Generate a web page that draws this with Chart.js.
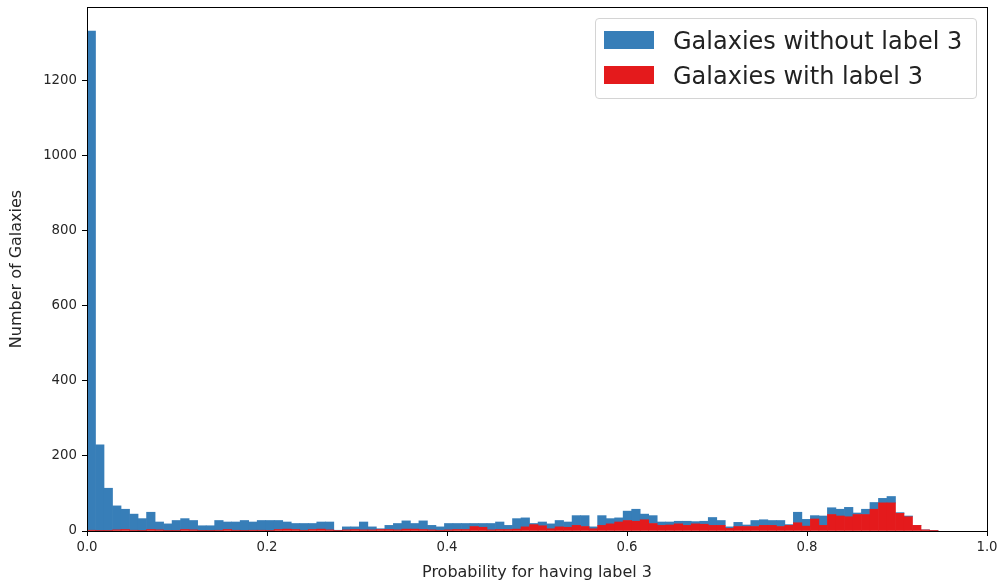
<!DOCTYPE html>
<html>
<head>
<meta charset="utf-8">
<script src="https://cdn.jsdelivr.net/npm/chart.js@4.4.1/dist/chart.umd.min.js"></script>
<style>
  html, body { margin: 0; padding: 0; background: #fff; overflow: hidden; }
  #wrap { position: relative; width: 1002px; height: 582px; }
  #legend { position: absolute; left: 595px; top: 18px; width: 382px; height: 81px;
            box-sizing: border-box; border: 1px solid #d4d4d4; border-radius: 4px;
            background: rgba(255,255,255,0.85); font-family: 'DejaVu Sans', sans-serif;
            font-size: 24px; color: #222; }
  .sw { position: absolute; left: 8px; width: 50px; height: 18px; }
  .lbl { position: absolute; left: 77px; line-height: 28px; white-space: nowrap; }
</style>
</head>
<body>
<div id="wrap">
  <canvas id="c" width="1002" height="582"></canvas>
  <div id="legend"></div>
</div>
<script>
// ---- data (100 bins) ----
const binWidth = 0.009456;          // width of one histogram bin
const xTicks = [0, 0.2, 0.4, 0.6, 0.8, 1.0];
const yTicks = [0, 200, 400, 600, 800, 1000, 1200];
const seriesNames = ['Galaxies without label 3', 'Galaxies with label 3'];
const seriesColors = ['#377eb8', '#e41a1c'];

// counts of galaxies with label 3 (bottom, red)
const withLabel = [
  2, 1, 1, 3, 4, 2, 1, 4, 3, 1,
  1, 4, 3, 1, 1, 2, 4, 2, 1, 2,
  2, 1, 4, 5, 4, 2, 4, 5, 3, 1,
  3, 4, 3, 3, 4, 4, 3, 5, 5, 4,
  3, 2, 3, 4, 4, 12, 10, 3, 4, 4,
  5, 11, 17, 14, 6, 11, 10, 15, 12, 6,
  15, 19, 24, 28, 26, 30, 20, 15, 16, 19,
  15, 19, 18, 15, 15, 7, 12, 12, 12, 15,
  15, 12, 15, 22, 13, 32, 15, 44, 40, 38,
  44, 44, 58, 75, 75, 47, 38, 15, 3, 1
];
// counts of galaxies without label 3 (stacked on top, blue)
const withoutLabel = [
  1331, 229, 113, 64, 54, 43, 32, 46, 21, 18,
  27, 29, 25, 13, 13, 26, 20, 22, 27, 22,
  26, 27, 24, 19, 16, 18, 16, 19, 21, 1,
  8, 7, 21, 8, 2, 11, 17, 22, 15, 23,
  12, 9, 17, 16, 16, 8, 10, 17, 20, 11,
  28, 24, 3, 10, 13, 17, 14, 26, 29, 5,
  26, 14, 11, 25, 32, 15, 21, 9, 8, 7,
  11, 6, 8, 21, 13, 4, 11, 4, 16, 15,
  13, 16, 2, 28, 18, 9, 25, 18, 18, 25,
  4, 14, 18, 12, 17, 2, 2, 0, 0, 0
];

// ---- build ----
const binCenters = withLabel.map((_, i) => (i + 0.5) * binWidth);
const toPoints = arr => arr.map((v, i) => ({ x: binCenters[i], y: v }));

Chart.defaults.font.family = "'DejaVu Sans', sans-serif";
Chart.defaults.font.size = 13.3;
Chart.defaults.color = '#262626';

const frame = {
  id: 'frame',
  afterDatasetsDraw(chart) {
    const { ctx, chartArea: a } = chart;
    ctx.save();
    ctx.strokeStyle = '#000';
    ctx.lineWidth = 1;
    ctx.strokeRect(Math.round(a.left) + 0.5, Math.round(a.top) + 0.5,
                   Math.round(a.right - a.left), Math.round(a.bottom - a.top));
    ctx.restore();
  }
};

new Chart(document.getElementById('c'), {
  type: 'bar',
  data: {
    datasets: [
      { label: seriesNames[1], data: toPoints(withLabel), backgroundColor: seriesColors[1],
        borderWidth: 0, categoryPercentage: 1, barPercentage: 1 },
      { label: seriesNames[0], data: toPoints(withoutLabel), backgroundColor: seriesColors[0],
        borderWidth: 0, categoryPercentage: 1, barPercentage: 1 }
    ]
  },
  options: {
    responsive: false,
    animation: false,
    devicePixelRatio: 1,
    layout: { padding: { left: 0, right: 15, top: 7, bottom: 0 } },
    plugins: { legend: { display: false }, tooltip: { enabled: false }, title: { display: false } },
    scales: {
      x: {
        type: 'linear', min: 0, max: 1, offset: false, stacked: true,
        grid: { display: true, drawOnChartArea: false, drawTicks: true, tickLength: 5,
                tickColor: '#000', offset: false },
        border: { display: false },
        afterBuildTicks: s => { s.ticks = xTicks.map(v => ({ value: v })); },
        afterFit: s => { s.height = 51; s.paddingLeft = 0; s.paddingRight = 0; },
        ticks: { padding: 4, maxRotation: 0, callback: v => Number(v).toFixed(1) },
        title: { display: true, text: 'Probability for having label 3', font: { size: 16 },
                 padding: { top: 0, bottom: 0 } }
      },
      y: {
        type: 'linear', min: 0, max: 1397, stacked: true,
        grid: { display: true, drawOnChartArea: false, drawTicks: true, tickLength: 5,
                tickColor: '#000' },
        border: { display: false },
        afterBuildTicks: s => { s.ticks = yTicks.map(v => ({ value: v })); },
        afterFit: s => { s.width = 87; s.paddingTop = 0; s.paddingBottom = 0; },
        ticks: { padding: 5, callback: v => String(v) },
        title: { display: true, text: 'Number of Galaxies', font: { size: 16 },
                 padding: { top: 7, bottom: 0 } }
      }
    }
  },
  plugins: [frame]
});

// legend (inside the plot, top-right)
const lg = document.getElementById('legend');
const order = [0, 1];
const swTop = [12, 47], lblTop = [8, 43];
order.forEach((k, r) => {
  const sw = document.createElement('div');
  sw.className = 'sw'; sw.style.top = swTop[r] + 'px'; sw.style.background = seriesColors[k];
  const lb = document.createElement('div');
  lb.className = 'lbl'; lb.style.top = lblTop[r] + 'px'; lb.textContent = seriesNames[k];
  lg.appendChild(sw); lg.appendChild(lb);
});
</script>
</body>
</html>
